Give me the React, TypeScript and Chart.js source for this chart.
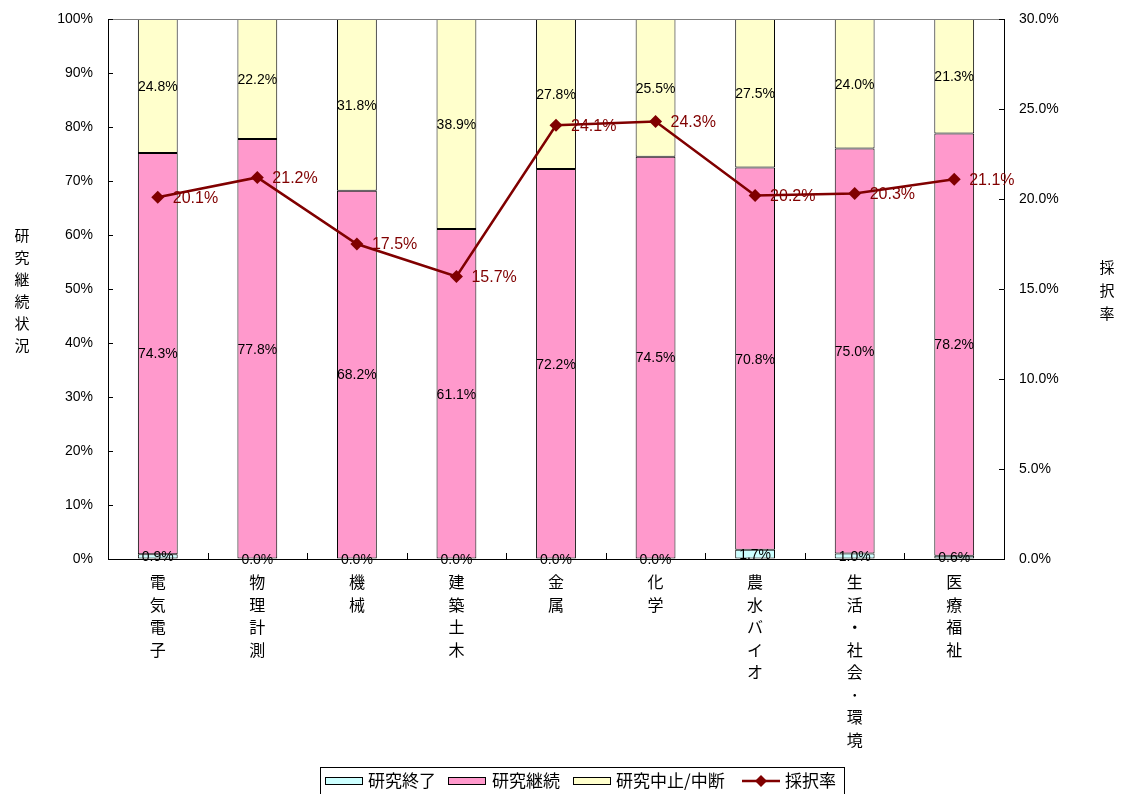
import React, { useEffect, useRef } from 'react';
import { Chart, registerables } from 'chart.js';

Chart.register(...registerables);

// Research fields (drawn as vertical text under each bar)
const categories = [
  '電気電子',
  '物理計測',
  '機械',
  '建築土木',
  '金属',
  '化学',
  '農水バイオ',
  '生活・社会･環境',
  '医療福祉',
];

// Research status shares (%)
const finished = [0.9, 0.0, 0.0, 0.0, 0.0, 0.0, 1.7, 1.0, 0.6];
const continuing = [74.3, 77.8, 68.2, 61.1, 72.2, 74.5, 70.8, 75.0, 78.2];
const stopped = [24.8, 22.2, 31.8, 38.9, 27.8, 25.5, 27.5, 24.0, 21.3];

// Adoption rate (%), right axis
const adoptionRate = [20.1, 21.2, 17.5, 15.7, 24.1, 24.3, 20.2, 20.3, 21.1];

const seriesNames = ['研究終了', '研究継続', '研究中止/中断', '採択率'];
const leftTitle = '研究継続状況';
const rightTitle = '採択率';

const leftAxis = { min: 0, max: 100, step: 10 };
const rightAxis = { min: 0, max: 30, step: 5 };

const LATIN = "'Liberation Sans', 'Noto Sans CJK JP', sans-serif";
const CJK = "'Noto Sans CJK JP', 'Liberation Sans', sans-serif";
const LINE_COLOR = '#800000';

const decorPlugin = {
  id: 'decor',
  afterDatasetDraw(chart: any, args: any) {
    const ds = chart.data.datasets[args.index];
    const ctx = chart.ctx;
    ctx.save();
    if (ds.type === 'line') {
      ctx.font = `16px ${LATIN}`;
      ctx.fillStyle = LINE_COLOR;
      ctx.textAlign = 'left';
      ctx.textBaseline = 'middle';
      args.meta.data.forEach((el: any, j: number) => {
        const { x, y } = el.getProps(['x', 'y'], true);
        ctx.fillText(`${ds.data[j].toFixed(1)}%`, x + 15, y + 1);
      });
    } else {
      ctx.font = `14px ${LATIN}`;
      ctx.fillStyle = '#000';
      ctx.textAlign = 'center';
      ctx.textBaseline = 'middle';
      args.meta.data.forEach((el: any, j: number) => {
        const { x, y, base } = el.getProps(['x', 'y', 'base'], true);
        ctx.fillText(`${ds.data[j].toFixed(1)}%`, x, (y + base) / 2 + 1);
      });
    }
    ctx.restore();
  },
  afterDraw(chart: any) {
    const ctx = chart.ctx;
    const area = chart.chartArea;
    const xs = chart.scales.x;
    const ys = chart.scales.y;
    const y1 = chart.scales.y1;
    ctx.save();

    // top edge of the plot frame
    ctx.strokeStyle = '#808080';
    ctx.lineWidth = 1;
    ctx.beginPath();
    ctx.moveTo(area.left, Math.round(area.top) + 0.5);
    ctx.lineTo(area.right, Math.round(area.top) + 0.5);
    ctx.stroke();

    // inward tick marks
    ctx.strokeStyle = '#000';
    ctx.beginPath();
    ys.ticks.forEach((t: any) => {
      const py = Math.round(ys.getPixelForValue(t.value)) + 0.5;
      ctx.moveTo(area.left, py);
      ctx.lineTo(area.left + 5, py);
    });
    y1.ticks.forEach((t: any) => {
      const py = Math.round(y1.getPixelForValue(t.value)) + 0.5;
      ctx.moveTo(area.right - 5, py);
      ctx.lineTo(area.right, py);
    });
    const step = xs.getPixelForValue(1) - xs.getPixelForValue(0);
    for (let i = 0; i < categories.length - 1; i++) {
      const px = Math.round(xs.getPixelForValue(i) + step / 2) + 0.5;
      ctx.moveTo(px, area.bottom - 6);
      ctx.lineTo(px, area.bottom);
    }
    ctx.stroke();

    // vertical category labels
    ctx.fillStyle = '#000';
    ctx.font = `16px ${CJK}`;
    ctx.textAlign = 'center';
    ctx.textBaseline = 'middle';
    categories.forEach((name, i) => {
      const px = xs.getPixelForValue(i);
      Array.from(name).forEach((ch, k) => {
        ctx.fillText(ch, px, area.bottom + 23 + k * 22.5);
      });
    });

    // axis titles
    ctx.font = `15px ${CJK}`;
    Array.from(leftTitle).forEach((ch, k) => {
      ctx.fillText(ch, 22, 235 + k * 22);
    });
    Array.from(rightTitle).forEach((ch, k) => {
      ctx.fillText(ch, 1107, 267 + k * 23);
    });

    // legend
    const ds = chart.data.datasets;
    ctx.strokeStyle = '#000';
    ctx.lineWidth = 1;
    ctx.strokeRect(320.5, 767.5, 524, 40);
    ctx.font = `17px ${CJK}`;
    ctx.textAlign = 'left';
    const cy = 781;
    const swatchX = [325, 448, 573];
    const textX = [368, 492, 616];
    for (let i = 0; i < 3; i++) {
      ctx.fillStyle = ds[i].backgroundColor;
      ctx.fillRect(swatchX[i] + 0.5, cy - 3.5, 37, 7);
      ctx.strokeRect(swatchX[i] + 0.5, cy - 3.5, 37, 7);
      ctx.fillStyle = '#000';
      ctx.fillText(seriesNames[i], textX[i], cy);
    }
    ctx.strokeStyle = LINE_COLOR;
    ctx.lineWidth = 2.5;
    ctx.beginPath();
    ctx.moveTo(742, cy);
    ctx.lineTo(780, cy);
    ctx.stroke();
    ctx.fillStyle = LINE_COLOR;
    ctx.beginPath();
    ctx.moveTo(761, cy - 6);
    ctx.lineTo(767, cy);
    ctx.lineTo(761, cy + 6);
    ctx.lineTo(755, cy);
    ctx.closePath();
    ctx.fill();
    ctx.fillStyle = '#000';
    ctx.fillText(seriesNames[3], 785, cy);

    ctx.restore();
  },
};

// fixed axis box sizes so the plot area sits where intended
const fixWidth = (w: number) => (s: any) => {
  s.width = w;
  s.paddingTop = 0;
  s.paddingBottom = 0;
};

export default function App() {
  const canvasRef = useRef<HTMLCanvasElement | null>(null);

  useEffect(() => {
    const canvas = canvasRef.current;
    if (!canvas) return;
    const barCommon = {
      type: 'bar' as const,
      borderColor: '#000',
      borderWidth: 1,
      borderSkipped: false,
      barPercentage: 0.4,
      categoryPercentage: 1,
      yAxisID: 'y',
      order: 1,
    };
    const chart = new Chart(canvas, {
      type: 'bar',
      data: {
        labels: categories,
        datasets: [
          { ...barCommon, label: seriesNames[0], data: finished, backgroundColor: '#CCFFFF' },
          { ...barCommon, label: seriesNames[1], data: continuing, backgroundColor: '#FF99CC' },
          { ...barCommon, label: seriesNames[2], data: stopped, backgroundColor: '#FFFFCC' },
          {
            type: 'line',
            label: seriesNames[3],
            data: adoptionRate,
            yAxisID: 'y1',
            borderColor: LINE_COLOR,
            backgroundColor: LINE_COLOR,
            borderWidth: 2.5,
            pointStyle: 'rectRot',
            pointRadius: 6.5,
            pointBackgroundColor: LINE_COLOR,
            pointBorderColor: LINE_COLOR,
            pointBorderWidth: 0,
            tension: 0,
            order: 0,
          } as any,
        ],
      },
      options: {
        responsive: false,
        animation: false,
        devicePixelRatio: 1,
        layout: { padding: { top: 19, left: 0, right: 0, bottom: 0 } },
        plugins: {
          legend: { display: false },
          tooltip: { enabled: false },
        },
        scales: {
          x: {
            stacked: true,
            grid: { display: false },
            ticks: { display: false },
            border: { display: true, color: '#000', width: 1 },
            afterFit: (s: any) => {
              s.height = 235;
            },
          },
          y: {
            position: 'left',
            stacked: true,
            min: leftAxis.min,
            max: leftAxis.max,
            ticks: {
              stepSize: leftAxis.step,
              padding: 15,
              color: '#000',
              font: { family: LATIN, size: 14 },
              callback: (v: any) => `${v}%`,
            },
            grid: { drawOnChartArea: false, drawTicks: false },
            border: { display: true, color: '#000', width: 1 },
            afterFit: fixWidth(108),
          },
          y1: {
            position: 'right',
            min: rightAxis.min,
            max: rightAxis.max,
            ticks: {
              stepSize: rightAxis.step,
              padding: 15,
              color: '#000',
              font: { family: LATIN, size: 14 },
              callback: (v: any) => `${Number(v).toFixed(1)}%`,
            },
            grid: { drawOnChartArea: false, drawTicks: false },
            border: { display: true, color: '#000', width: 1 },
            afterFit: fixWidth(117),
          },
        },
      } as any,
      plugins: [decorPlugin],
    });
    return () => chart.destroy();
  }, []);

  return (
    <div style={{ position: 'fixed', left: 0, top: 0, width: 1121, height: 794, background: '#fff' }}>
      <canvas ref={canvasRef} width={1121} height={794} style={{ display: 'block' }} />
    </div>
  );
}
